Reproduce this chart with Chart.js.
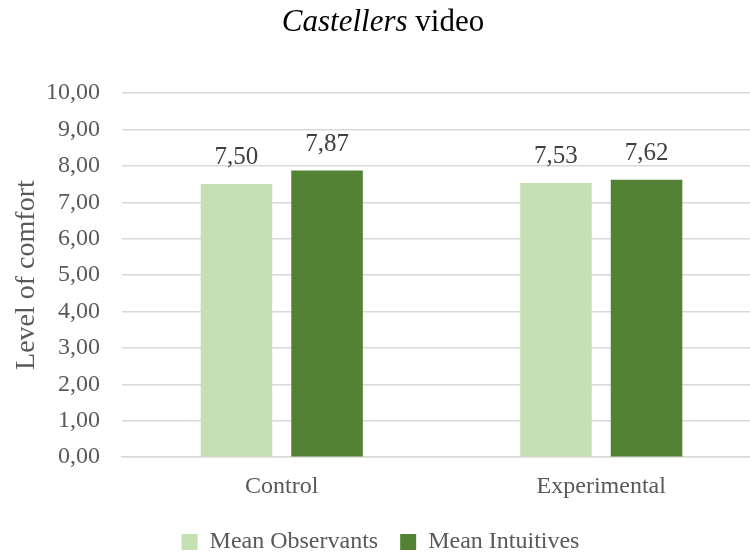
<!DOCTYPE html>
<html lang="en">
<head>
    <meta charset="UTF-8">
    <script src="https://cdn.jsdelivr.net/npm/chart.js"></script>
    <title>Castellers video</title>
    <style>
        html, body { margin: 0; padding: 0; background: #fff; overflow: hidden; }
        #wrap { width: 766px; height: 566px; }
    </style>
</head>
<body>
    <div id="wrap"><canvas id="comfortChart" width="766" height="566"></canvas></div>
    <script>
        const groups = ['Control', 'Experimental'];
        const meanObservants = [7.50, 7.53];
        const meanIntuitives = [7.87, 7.62];
        const yTicks = [0, 1, 2, 3, 4, 5, 6, 7, 8, 9, 10];

        const serif = '"Liberation Serif", "Times New Roman", serif';
        const comma = v => v.toFixed(2).replace('.', ',');

        // title with the italic word drawn separately
        const titlePlugin = {
            id: 'mixedTitle',
            afterDraw(chart) {
                const ctx = chart.ctx;
                ctx.save();
                ctx.fillStyle = '#000';
                ctx.textBaseline = 'middle';
                const italic = 'italic 31px ' + serif;
                const plain = '31px ' + serif;
                ctx.font = italic;
                const w1 = ctx.measureText('Castellers').width;
                ctx.font = plain;
                const w2 = ctx.measureText(' video').width;
                const x = 383 - (w1 + w2) / 2;
                const y = 23;
                ctx.textAlign = 'left';
                ctx.font = italic;
                ctx.fillText('Castellers', x, y);
                ctx.font = plain;
                ctx.fillText(' video', x + w1, y);
                ctx.restore();
            }
        };

        // value labels above each bar
        const valueLabels = {
            id: 'valueLabels',
            afterDatasetsDraw(chart) {
                const ctx = chart.ctx;
                ctx.save();
                ctx.font = '25px ' + serif;
                ctx.fillStyle = '#404040';
                ctx.textAlign = 'center';
                ctx.textBaseline = 'bottom';
                chart.data.datasets.forEach((ds, i) => {
                    chart.getDatasetMeta(i).data.forEach((bar, j) => {
                        ctx.fillText(comma(ds.data[j]), bar.x, bar.y - 14);
                    });
                });
                ctx.restore();
            }
        };

        new Chart(document.getElementById('comfortChart'), {
            type: 'bar',
            data: {
                labels: groups,
                datasets: [
                    {
                        label: 'Mean Observants',
                        data: meanObservants,
                        backgroundColor: '#C5E0B4'
                    },
                    {
                        label: 'Mean Intuitives',
                        data: meanIntuitives,
                        backgroundColor: '#548235'
                    }
                ]
            },
            options: {
                responsive: false,
                animation: false,
                categoryPercentage: 0.567,
                barPercentage: 0.79,
                layout: { padding: { top: 93, right: 5, left: 0, bottom: 2 } },
                plugins: {
                    legend: {
                        position: 'bottom',
                        labels: {
                            font: { family: serif, size: 24 },
                            color: '#595959',
                            boxWidth: 16,
                            boxHeight: 16,
                            padding: 22
                        }
                    },
                    tooltip: { enabled: false }
                },
                scales: {
                    x: {
                        grid: { display: false },
                        border: { color: '#D9D9D9', width: 1.5 },
                        ticks: {
                            font: { family: serif, size: 24 },
                            color: '#595959',
                            padding: 7
                        }
                    },
                    y: {
                        min: 0,
                        max: 10,
                        afterBuildTicks(axis) {
                            axis.ticks = yTicks.map(v => ({ value: v }));
                        },
                        afterFit(axis) {
                            axis.width = 122;
                        },
                        grid: { color: '#D9D9D9', lineWidth: 1.5, drawTicks: false },
                        border: { display: false },
                        ticks: {
                            font: { family: serif, size: 24 },
                            color: '#595959',
                            padding: 22,
                            callback: v => comma(v)
                        },
                        title: {
                            display: true,
                            text: 'Level of comfort',
                            font: { family: serif, size: 28 },
                            color: '#595959',
                            padding: { top: 10, bottom: 0 }
                        }
                    }
                }
            },
            plugins: [titlePlugin, valueLabels]
        });
    </script>
</body>
</html>
